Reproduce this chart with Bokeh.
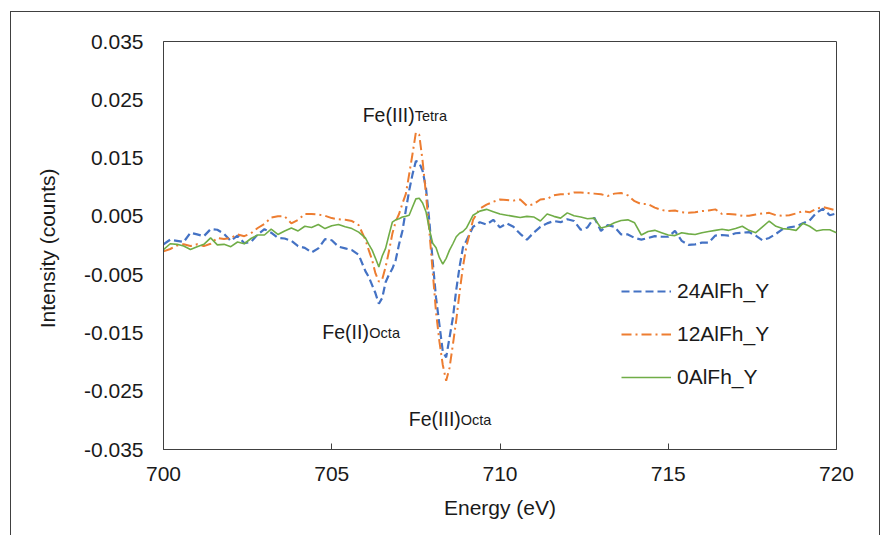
from bokeh.plotting import figure
from bokeh.models import Range1d, FixedTicker, NumeralTickFormatter, Label, Legend, LegendItem
from bokeh.embed import file_html
from bokeh.resources import INLINE

# ---------------- data ----------------
energy = (
    [700.0, 700.2, 700.4, 700.6, 700.8, 701.0, 701.2, 701.4, 701.6, 701.8,
     702.0, 702.2, 702.4, 702.6, 702.8, 703.0, 703.2, 703.4, 703.6, 703.8,
     704.0, 704.2, 704.4, 704.6, 704.8, 705.0, 705.2, 705.4, 705.6, 705.8,
     706.0]
    + [706.1, 706.2, 706.3, 706.4, 706.5, 706.6, 706.7, 706.8, 706.9, 707.0,
       707.1, 707.2, 707.3, 707.4, 707.5, 707.6, 707.7, 707.8, 707.9, 708.0,
       708.1, 708.2, 708.3, 708.4, 708.5, 708.6, 708.7, 708.8, 708.9, 709.0]
    + [709.2, 709.4, 709.6, 709.8, 710.0, 710.2, 710.4, 710.6, 710.8, 711.0,
       711.2, 711.4, 711.6, 711.8, 712.0, 712.2, 712.4, 712.6, 712.8, 713.0,
       713.2, 713.4, 713.6, 713.8, 714.0, 714.2, 714.4, 714.6, 714.8, 715.0,
       715.2, 715.4, 715.6, 715.8, 716.0, 716.2, 716.4, 716.6, 716.8, 717.0,
       717.2, 717.4, 717.6, 717.8, 718.0, 718.2, 718.4, 718.6, 718.8, 719.0,
       719.2, 719.4, 719.6, 719.8, 720.0]
)

al24 = (
    [0.0002, 0.0010, 0.0008, 0.0006, 0.0022, 0.0019, 0.0016, 0.0028, 0.0027, 0.0020,
     0.0008, 0.0017, 0.0004, 0.0006, 0.0019, 0.0028, 0.0022, 0.0013, 0.0012, 0.0008,
     -0.0001, -0.0004, -0.0012, -0.0005, 0.0011, 0.0009, -0.0002, -0.0005, -0.0008, -0.0016,
     -0.0044]
    + [-0.0054, -0.0068, -0.0082, -0.0100, -0.0090, -0.0063, -0.0050, -0.0040, -0.0025, 0.0002,
       0.0025, 0.0060, 0.0094, 0.0122, 0.0145, 0.0142, 0.0128, 0.0099, 0.0042, -0.0027,
       -0.0090, -0.0136, -0.0182, -0.0192, -0.0158, -0.0124, -0.0076, -0.0036, -0.0003, 0.0008]
    + [0.0032, 0.0040, 0.0036, 0.0044, 0.0031, 0.0038, 0.0032, 0.0020, 0.0010, 0.0022,
       0.0032, 0.0038, 0.0042, 0.0040, 0.0045, 0.0042, 0.0027, 0.0031, 0.0048, 0.0025,
       0.0035, 0.0032, 0.0019, 0.0019, 0.0013, 0.0010, 0.0013, 0.0016, 0.0015, 0.0015,
       0.0025, 0.0008, 0.0001, 0.0002, 0.0005, 0.0005, 0.0017, 0.0018, 0.0017, 0.0021,
       0.0022, 0.0023, 0.0017, 0.0009, 0.0013, 0.0020, 0.0028, 0.0031, 0.0033, 0.0038,
       0.0043, 0.0056, 0.0063, 0.0052, 0.0055]
)

al12 = (
    [-0.0010, -0.0006, 0.0000, 0.0002, -0.0001, 0.0002, -0.0001, 0.0003, 0.0013, 0.0011,
     0.0013, 0.0019, 0.0016, 0.0021, 0.0030, 0.0037, 0.0048, 0.0050, 0.0050, 0.0038,
     0.0044, 0.0054, 0.0054, 0.0053, 0.0051, 0.0047, 0.0045, 0.0044, 0.0042, 0.0035,
     0.0010]
    + [-0.0008, -0.0025, -0.0048, -0.0062, -0.0058, -0.0037, -0.0010, 0.0020, 0.0041, 0.0054,
       0.0072, 0.0088, 0.0122, 0.0157, 0.0194, 0.0190, 0.0145, 0.0088, 0.0025, -0.0045,
       -0.0115, -0.0165, -0.0205, -0.0232, -0.0210, -0.0170, -0.0128, -0.0080, -0.0036, -0.0002]
    + [0.0044, 0.0063, 0.0070, 0.0075, 0.0079, 0.0078, 0.0077, 0.0079, 0.0068, 0.0071,
       0.0079, 0.0080, 0.0086, 0.0088, 0.0088, 0.0091, 0.0091, 0.0090, 0.0089, 0.0088,
       0.0085, 0.0089, 0.0090, 0.0086, 0.0076, 0.0071, 0.0071, 0.0065, 0.0061, 0.0059,
       0.0060, 0.0057, 0.0056, 0.0057, 0.0059, 0.0060, 0.0062, 0.0054, 0.0054, 0.0053,
       0.0051, 0.0051, 0.0053, 0.0055, 0.0056, 0.0052, 0.0051, 0.0052, 0.0055, 0.0059,
       0.0057, 0.0063, 0.0066, 0.0063, 0.0060]
)

al0 = (
    [-0.0007, 0.0003, 0.0002, -0.0001, -0.0007, -0.0002, 0.0002, 0.0013, 0.0001, 0.0002,
     -0.0002, 0.0006, 0.0003, 0.0012, 0.0018, 0.0018, 0.0028, 0.0019, 0.0025, 0.0030,
     0.0025, 0.0033, 0.0031, 0.0036, 0.0029, 0.0034, 0.0036, 0.0032, 0.0029, 0.0023,
     0.0013]
    + [0.0002, -0.0008, -0.0022, -0.0037, -0.0018, -0.0005, 0.0018, 0.0040, 0.0044, 0.0046,
       0.0049, 0.0050, 0.0052, 0.0066, 0.0080, 0.0081, 0.0073, 0.0058, 0.0028, 0.0004,
       -0.0004, -0.0021, -0.0032, -0.0022, -0.0008, 0.0003, 0.0015, 0.0021, 0.0024, 0.0030]
    + [0.0052, 0.0059, 0.0062, 0.0058, 0.0054, 0.0052, 0.0050, 0.0048, 0.0050, 0.0049,
       0.0042, 0.0054, 0.0050, 0.0047, 0.0056, 0.0051, 0.0049, 0.0046, 0.0047, 0.0030,
       0.0033, 0.0039, 0.0043, 0.0044, 0.0039, 0.0018, 0.0024, 0.0026, 0.0022, 0.0018,
       0.0017, 0.0022, 0.0020, 0.0019, 0.0022, 0.0024, 0.0026, 0.0028, 0.0026, 0.0029,
       0.0033, 0.0026, 0.0022, 0.0032, 0.0042, 0.0033, 0.0029, 0.0028, 0.0026, 0.0038,
       0.0033, 0.0025, 0.0027, 0.0027, 0.0022]
)

series_names = ["24AlFh_Y", "12AlFh_Y", "0AlFh_Y"]
y_ticks = [-0.035, -0.025, -0.015, -0.005, 0.005, 0.015, 0.025, 0.035]
x_ticks = [700, 705, 710, 715, 720]

# annotation texts: (main, subscript, x, y) in data units
annotations = [
    ("Fe(III)", "Tetra", 705.92, 0.0224),
    ("Fe(II)", "Octa", 704.72, -0.0149),
    ("Fe(III)", "Octa", 707.29, -0.0297),
]

FONT = "Liberation Sans"
TXT = "#1a1a1a"

p = figure(width=870, height=530, output_backend="svg", toolbar_location=None,
           x_range=Range1d(700, 720), y_range=Range1d(-0.035, 0.035),
           min_border_left=152, min_border_right=45, min_border_top=29, min_border_bottom=93)
p.margin = (11, 0, 0, 10)
p.styles = {"border": "1px solid #404040", "box-sizing": "border-box"}

p.xgrid.visible = False
p.ygrid.visible = False
p.outline_line_color = "#404040"
p.outline_line_width = 1

p.xaxis.ticker = FixedTicker(ticks=x_ticks)
p.yaxis.ticker = FixedTicker(ticks=y_ticks)
p.yaxis.formatter = NumeralTickFormatter(format="0.000")

for ax in (p.xaxis, p.yaxis):
    ax.axis_line_color = "#404040"
    ax.minor_tick_line_color = None
    ax.major_label_text_font = FONT
    ax.major_label_text_font_size = "21px"
    ax.major_label_text_color = TXT
    ax.axis_label_text_font = FONT
    ax.axis_label_text_font_size = "21px"
    ax.axis_label_text_font_style = "normal"
    ax.axis_label_text_color = TXT

p.xaxis.major_tick_in = 6
p.xaxis.major_tick_out = 0
p.xaxis.major_tick_line_color = "#404040"
p.xaxis.major_label_standoff = 17
p.xaxis.axis_label = "Energy (eV)"
p.xaxis.axis_label_standoff = 12

p.yaxis.major_tick_in = 0
p.yaxis.major_tick_out = 0
p.yaxis.major_label_standoff = 20
p.yaxis.axis_label = "Intensity  (counts)"
p.yaxis.axis_label_standoff = 22

r24 = p.line(energy, al24, line_color="#4472C4", line_width=2.2, line_dash="8 4")
r12 = p.line(energy, al12, line_color="#ED7D31", line_width=2.0, line_dash="10 4 2 4")
r0 = p.line(energy, al0, line_color="#70AD47", line_width=1.6)

legend = Legend(items=[LegendItem(label=series_names[0], renderers=[r24]),
                       LegendItem(label=series_names[1], renderers=[r12]),
                       LegendItem(label=series_names[2], renderers=[r0])],
                location=(458, 60), border_line_color=None, background_fill_alpha=0,
                padding=0, margin=0, spacing=19, glyph_width=50, glyph_height=20,
                label_height=20, label_standoff=6,
                label_text_font=FONT, label_text_font_size="21px", label_text_color=TXT)
p.add_layout(legend, "center")

for main, sub, x, y in annotations:
    p.add_layout(Label(x=x, y=y, text=main, text_font=FONT, text_font_size="19.5px",
                       text_color=TXT, text_align="left", text_baseline="alphabetic"))
    p.add_layout(Label(x=x, y=y, x_offset=(52 if main == "Fe(III)" else 47),
                       y_offset=-1, text=sub, text_font=FONT, text_font_size="14.5px",
                       text_color=TXT, text_align="left", text_baseline="alphabetic"))

open("out.html", "w").write(file_html(p, INLINE))
